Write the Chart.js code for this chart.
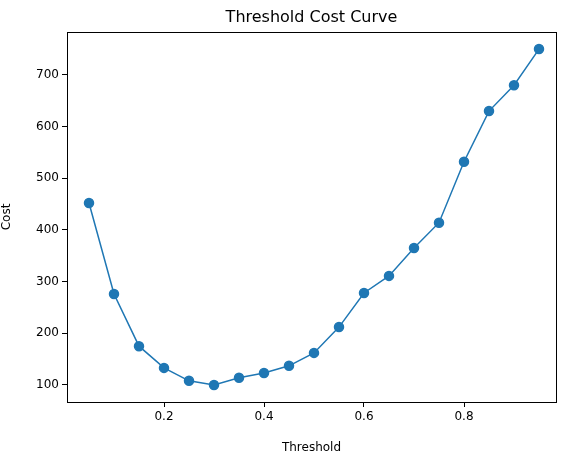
<!DOCTYPE html>
<html>
<head>
<meta charset="utf-8">
<script src="https://cdn.jsdelivr.net/npm/chart.js@4"></script>
<style>
  html, body { margin: 0; padding: 0; background: #fff; }
  #wrap { width: 571px; height: 455px; }
</style>
</head>
<body>
<div id="wrap"><canvas id="costChart" width="571" height="455"></canvas></div>
<script>
// threshold sweep values
const thresholds = [0.05, 0.10, 0.15, 0.20, 0.25, 0.30, 0.35, 0.40, 0.45, 0.50,
                    0.55, 0.60, 0.65, 0.70, 0.75, 0.80, 0.85, 0.90, 0.95];
const costs = [452, 276, 175, 133, 108, 100, 114, 123, 137, 162,
               212, 278, 311, 365, 414, 532, 630, 680, 750];
const xTicks = [0.2, 0.4, 0.6, 0.8];
const yTicks = [100, 200, 300, 400, 500, 600, 700];

const points = thresholds.map((t, i) => ({ x: t, y: costs[i] }));
const FONT = 'DejaVu Sans';

// frame + title, matplotlib style
const framePlugin = {
    id: 'frame',
    afterDraw(chart) {
        const { ctx, chartArea: a } = chart;
        ctx.save();
        ctx.strokeStyle = '#000';
        ctx.lineWidth = 1;
        ctx.strokeRect(a.left + 0.5, a.top + 0.5, a.right - a.left, a.bottom - a.top);
        ctx.fillStyle = '#000';
        ctx.font = '16px "' + FONT + '"';
        ctx.textAlign = 'center';
        ctx.textBaseline = 'bottom';
        ctx.fillText('Threshold Cost Curve', (a.left + a.right) / 2, a.top - 6);
        ctx.restore();
    }
};

const axisCommon = {
    grid: { drawOnChartArea: false, drawTicks: true, tickLength: 5, color: '#000' },
    border: { display: true, color: '#000' },
    ticks: { color: '#000', font: { family: FONT, size: 12 }, padding: 3 }
};

new Chart(document.getElementById('costChart').getContext('2d'), {
    type: 'scatter',
    data: {
        datasets: [{
            label: 'Cost',
            data: points,
            showLine: true,
            borderColor: '#1f77b4',
            backgroundColor: '#1f77b4',
            borderWidth: 1.5,
            pointRadius: 4.5,
            pointHoverRadius: 5
        }]
    },
    options: {
        responsive: false,
        animation: false,
        layout: { padding: { top: 32, right: 15, left: 0, bottom: 0 } },
        plugins: { legend: { display: false }, tooltip: { enabled: false } },
        scales: {
            x: {
                ...axisCommon,
                type: 'linear',
                min: 0.006, max: 0.984,
                afterBuildTicks: s => { s.ticks = xTicks.map(v => ({ value: v })); },
                afterFit: s => { s.height = 53; },
                ticks: { ...axisCommon.ticks, callback: v => String(v) },
                title: { display: true, text: 'Threshold', color: '#000', font: { family: FONT, size: 12 }, padding: 0 }
            },
            y: {
                ...axisCommon,
                min: 67, max: 783,
                afterBuildTicks: s => { s.ticks = yTicks.map(v => ({ value: v })); },
                afterFit: s => { s.width = 67; },
                title: { display: true, text: 'Cost', color: '#000', font: { family: FONT, size: 12 }, padding: 0 }
            }
        }
    },
    plugins: [framePlugin]
});
</script>
</body>
</html>
